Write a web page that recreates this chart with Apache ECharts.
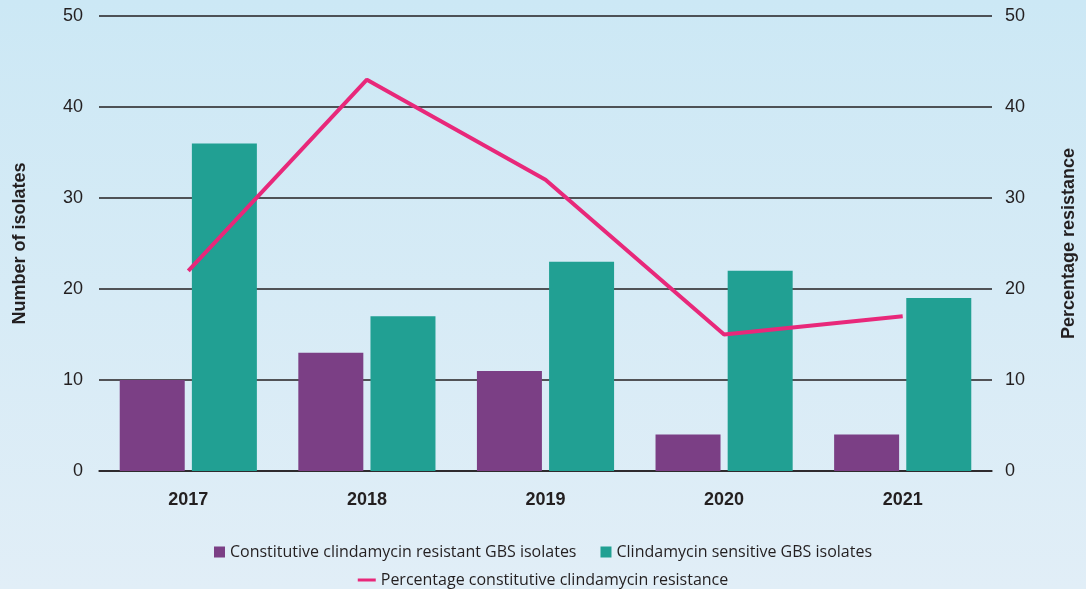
<!DOCTYPE html>
<html>
<head>
<meta charset="utf-8">
<script src="https://cdn.jsdelivr.net/npm/echarts@6/dist/echarts.min.js"></script>
<style>
  html, body { margin: 0; padding: 0; }
  #chart { width: 1086px; height: 589px; background: linear-gradient(#cce8f5, #e1eef7); }
</style>
</head>
<body>
<div id="chart"></div>
<script>
var years = ['2017', '2018', '2019', '2020', '2021'];
var resistant = [10, 13, 11, 4, 4];
var sensitive = [36, 17, 23, 22, 19];
var pctResistance = [22, 43, 32, 15, 17];

var chart = echarts.init(document.getElementById('chart'));
var labelColor = '#231f20';
var axisFont = "'Liberation Sans', Arial, sans-serif";
var legendFont = "'Liberation Sans Narrow', 'Open Sans', sans-serif";

chart.setOption({
  backgroundColor: 'transparent',
  grid: { left: 99, right: 89, top: 16, bottom: 118 },
  legend: [{
    data: ['Constitutive clindamycin resistant GBS isolates', 'Clindamycin sensitive GBS isolates'],
    top: 539,
    left: 'center',
    itemWidth: 11,
    itemHeight: 11,
    itemGap: 24,
    icon: 'rect',
    textStyle: { fontFamily: legendFont, fontSize: 16, color: labelColor }
  }, {
    data: ['Percentage constitutive clindamycin resistance'],
    top: 567,
    left: 'center',
    itemWidth: 18,
    itemHeight: 3,
    icon: 'rect',
    textStyle: { fontFamily: legendFont, fontSize: 16, color: labelColor }
  }],
  xAxis: {
    type: 'category',
    data: years,
    axisLine: { lineStyle: { color: '#231f20', width: 1.5 } },
    axisTick: { show: false },
    axisLabel: { color: labelColor, fontFamily: axisFont, fontSize: 18, fontWeight: 'bold', margin: 20 }
  },
  yAxis: [{
    type: 'value',
    min: 0, max: 50, interval: 10,
    name: 'Number of isolates',
    nameLocation: 'middle',
    nameGap: 70,
    nameTextStyle: { color: labelColor, fontFamily: axisFont, fontSize: 18, fontWeight: 'bold' },
    axisLine: { show: false },
    axisTick: { show: false },
    axisLabel: { color: labelColor, fontFamily: axisFont, fontSize: 18, margin: 16 },
    splitLine: { lineStyle: { color: '#231f20', width: 1.5 } }
  }, {
    type: 'value',
    min: 0, max: 50, interval: 10,
    name: 'Percentage resistance',
    nameLocation: 'middle',
    nameGap: 68,
    nameRotate: 90,
    nameTextStyle: { color: labelColor, fontFamily: axisFont, fontSize: 18, fontWeight: 'bold' },
    axisLine: { show: false },
    axisTick: { show: false },
    axisLabel: { color: labelColor, fontFamily: axisFont, fontSize: 18, margin: 13 },
    splitLine: { show: false }
  }],
  series: [{
    name: 'Constitutive clindamycin resistant GBS isolates',
    type: 'bar',
    data: resistant,
    barWidth: 65,
    barGap: '11%',
    itemStyle: { color: '#7b3f85' }
  }, {
    name: 'Clindamycin sensitive GBS isolates',
    type: 'bar',
    data: sensitive,
    barWidth: 65,
    itemStyle: { color: '#21a093' }
  }, {
    name: 'Percentage constitutive clindamycin resistance',
    type: 'line',
    yAxisIndex: 1,
    data: pctResistance,
    symbol: 'none',
    lineStyle: { color: '#e8287a', width: 4 },
    itemStyle: { color: '#e8287a' }
  }]
});
</script>
</body>
</html>
